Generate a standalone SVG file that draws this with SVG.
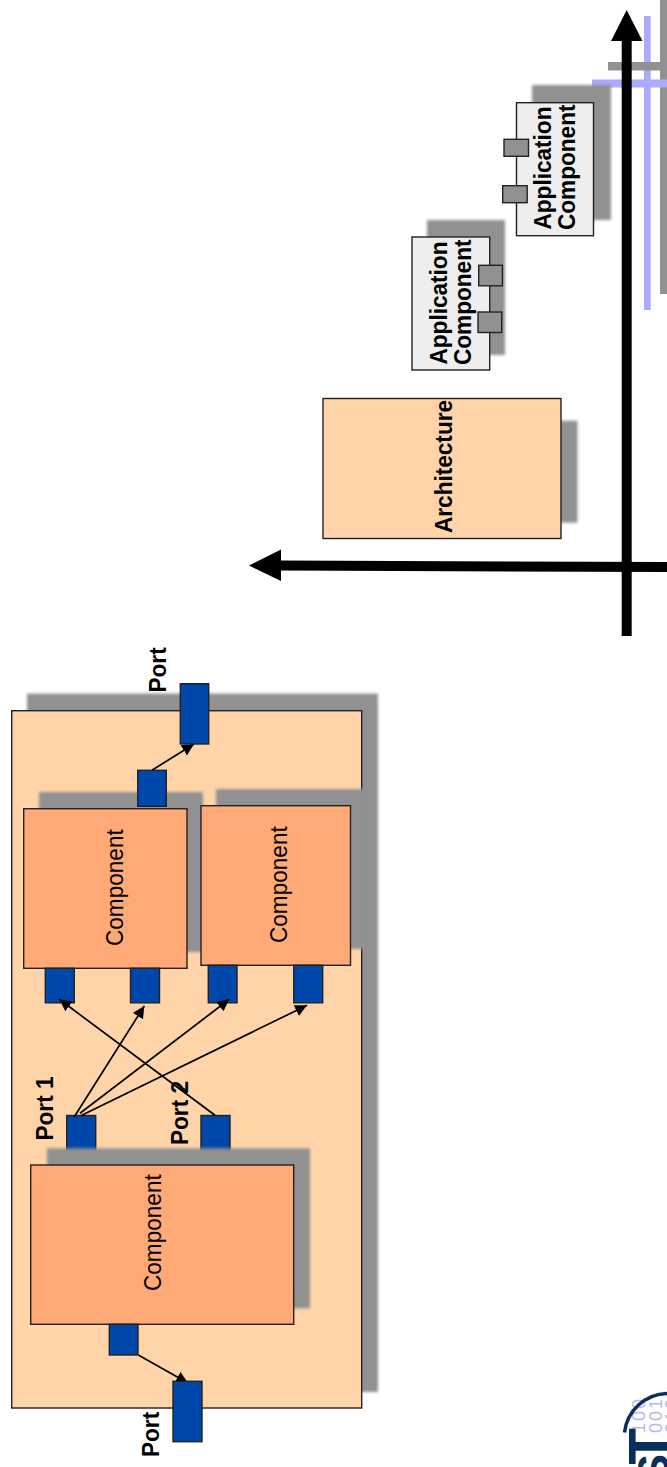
<svg xmlns="http://www.w3.org/2000/svg" width="667" height="1467" viewBox="0 0 667 1467">
<style>
.s{fill:#919191;filter:url(#b)}
.o{fill:#fed4a8;stroke:#222;stroke-width:1.4}
.c{fill:#ffa977;stroke:#222;stroke-width:1.4}
.a{fill:#eeeeee;stroke:#222;stroke-width:1.4}
.gp{fill:#919191;stroke:#222;stroke-width:1.4}
.p{fill:#0047ab;stroke:#222;stroke-width:1.4}
.e{stroke:#000;stroke-width:1.7;fill:none;marker-end:url(#h)}
text{font-family:"Liberation Sans",Arial,sans-serif;font-size:22.6px;fill:#000}
.bd{font-weight:bold}
.bin{fill:#b9b9ee;font-size:18px;letter-spacing:2px}
.st{font-weight:bold;fill:#0a2f5c}
</style>
<defs>
<filter id="b" x="-10%" y="-10%" width="120%" height="120%"><feGaussianBlur stdDeviation="1.7"/></filter>
<marker id="h" markerUnits="userSpaceOnUse" markerWidth="13" markerHeight="12" refX="12" refY="6" orient="auto"><path d="M0 0L12 6L0 12Z" fill="#000"/></marker>
</defs>
<g id="background-lines">
<rect x="660" y="0" width="7" height="294" fill="#919191"/>
<rect x="592" y="79.500" width="75" height="8" fill="#aaaaff"/>
<rect x="644" y="16" width="6.700" height="294" fill="#aaaaff"/>
<rect x="608" y="62" width="59" height="8.500" fill="#919191"/>
</g>
<g id="app-component-1">
<rect class="s" x="532" y="85" width="79" height="135"/>
<rect class="a" x="516.500" y="102.700" width="77" height="133"/>
<rect class="gp" x="504" y="139.300" width="24.500" height="17"/>
<rect class="gp" x="502.700" y="185.700" width="24.500" height="17"/>
<text class="bd" transform="translate(551,229.500) rotate(-90) scale(1 1.05)">Application</text>
<text class="bd" transform="translate(575,230) rotate(-90) scale(1 1.05)">Component</text>
</g>
<g id="app-component-2">
<rect class="s" x="427" y="220" width="78" height="135"/>
<rect class="a" x="412" y="237" width="77.700" height="133"/>
<rect class="gp" x="478.700" y="265.300" width="23.700" height="20.500"/>
<rect class="gp" x="478" y="312" width="23.700" height="20.500"/>
<text class="bd" transform="translate(446.500,364.500) rotate(-90) scale(1 1.05)">Application</text>
<text class="bd" transform="translate(470.500,365) rotate(-90) scale(1 1.05)">Component</text>
</g>
<g id="architecture">
<rect class="s" x="338" y="420.700" width="239.500" height="102"/>
<rect class="o" x="323" y="398.500" width="238" height="140"/>
<text class="bd" transform="translate(451.500,533) rotate(-90) scale(1 1.05)">Architecture</text>
</g>
<g id="outer-component">
<rect class="s" x="27" y="693.500" width="351" height="698.500"/>
<rect class="o" x="11.700" y="710.700" width="350" height="697.300"/>
</g>
<g id="port-1">
<rect class="p" x="66.700" y="1115.500" width="29" height="45"/>
<text class="bd" transform="translate(52.500,1140.500) rotate(-90) scale(1 1.05)">Port 1</text>
</g>
<g id="port-2">
<rect class="p" x="201" y="1115.500" width="29" height="45"/>
<text class="bd" transform="translate(187.500,1145) rotate(-90) scale(1 1.05)">Port 2</text>
</g>
<g id="component-a">
<rect class="s" x="39" y="792" width="164" height="160"/>
<rect class="c" x="23.700" y="808.700" width="163.300" height="159.600"/>
<text transform="translate(123,946) rotate(-90) scale(1 1.05)">Component</text>
<rect class="p" x="137.700" y="770.300" width="28.600" height="36"/>
<rect class="p" x="45.300" y="968.300" width="29" height="34.500"/>
<rect class="p" x="130.500" y="968.300" width="29" height="34.500"/>
</g>
<g id="component-b">
<rect class="s" x="216" y="789" width="150" height="160"/>
<rect class="c" x="201" y="805.700" width="149.500" height="159.600"/>
<text transform="translate(287,943) rotate(-90) scale(1 1.05)">Component</text>
<rect class="p" x="208.300" y="965.300" width="28.700" height="37.500"/>
<rect class="p" x="293.700" y="965.300" width="29" height="37.500"/>
</g>
<g id="component-c">
<rect class="s" x="47" y="1148.300" width="263" height="160"/>
<rect class="c" x="30.700" y="1165" width="263" height="159.300"/>
<text transform="translate(161,1291) rotate(-90) scale(1 1.05)">Component</text>
<rect class="p" x="109.300" y="1324.300" width="28.700" height="30.700"/>
</g>
<g id="connectors">
<line class="e" x1="152.300" y1="770" x2="194" y2="744"/>
<line class="e" x1="215" y1="1115.300" x2="59.300" y2="999.300"/>
<line class="e" x1="74" y1="1117.300" x2="144.300" y2="1006"/>
<line class="e" x1="80" y1="1113.300" x2="229.300" y2="999.300"/>
<line class="e" x1="81.700" y1="1115.300" x2="307" y2="1005.300"/>
<line class="e" x1="138.300" y1="1355" x2="188" y2="1383"/>
</g>
<g id="port-out-top">
<rect class="p" x="180.300" y="683.700" width="28.400" height="60.300"/>
<text class="bd" transform="translate(165.500,692.500) rotate(-90) scale(1 1.05)">Port</text>
</g>
<g id="port-out-bottom">
<rect class="p" x="173" y="1381.300" width="29" height="60.400"/>
<text class="bd" transform="translate(159,1457) rotate(-90) scale(1 1.05)">Port</text>
</g>
<g id="axes">
<path d="M621.700 41H611L626.700 10L642.500 41H631.700V636H621.700Z" fill="#000"/>
<path d="M281 560.500V549.500L249 565.500L281 581V570.500L667 572V562Z" fill="#000"/>
</g>
<g id="logo">
<text class="bin" transform="translate(645,1433) rotate(-90)">100</text>
<text class="bin" transform="translate(661.500,1433) rotate(-90)">001</text>
<text class="bin" transform="translate(678,1433) rotate(-90)">010</text>
<path d="M624.500 1432.500A44 44 0 0 1 667 1393.500" fill="none" stroke="#0a2f5c" stroke-width="3.500"/>
<text class="st" transform="translate(670,1446.500) rotate(-90)" text-anchor="middle" style="font-size:60px">T</text>
<text class="st" transform="translate(669,1484) rotate(-90)" style="font-size:45px">S</text>
</g>
</svg>
